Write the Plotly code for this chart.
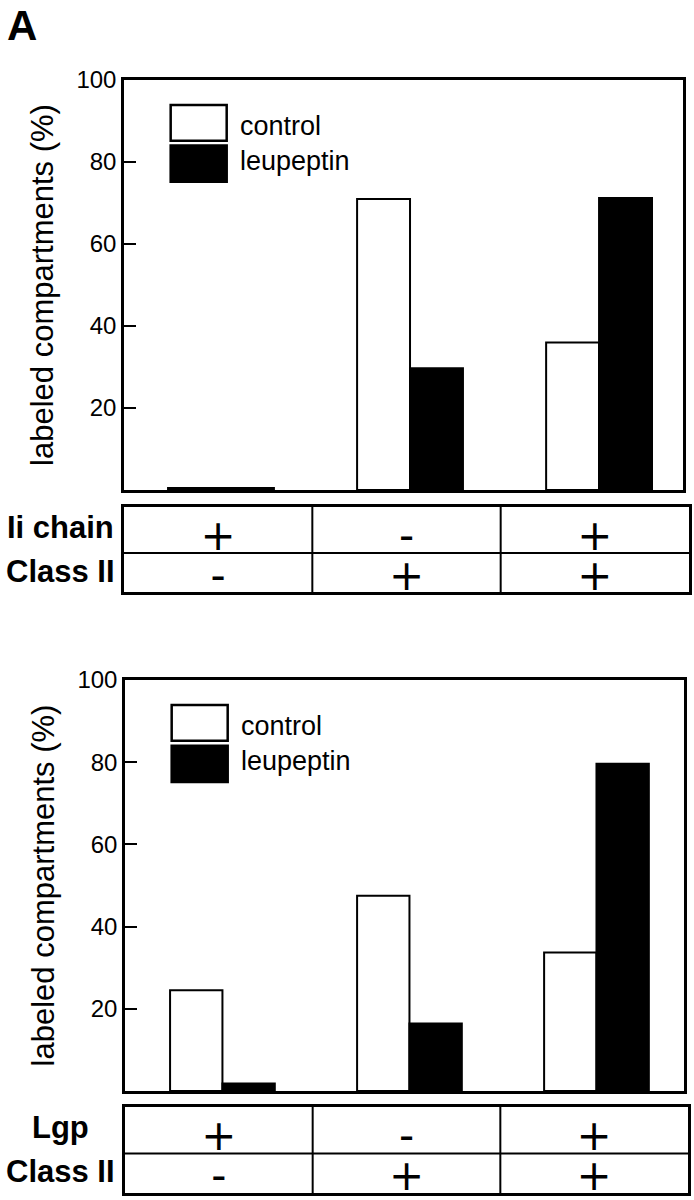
import plotly.graph_objects as go

# ---------------- data ----------------
groups = [0, 1, 2]
series_names = ["control", "leupeptin"]
top_control = [0.5, 71.0, 36.0]
top_leupeptin = [0.5, 29.7, 71.2]
bottom_control = [24.5, 47.5, 33.7]
bottom_leupeptin = [1.8, 16.4, 79.6]
y_ticks = [20, 40, 60, 80, 100]
y_title = "labeled compartments (%)"
top_row_labels = ["Ii chain", "Class II"]
top_row_signs = [["+", "-", "+"], ["-", "+", "+"]]
bottom_row_labels = ["Lgp", "Class II"]
bottom_row_signs = [["+", "-", "+"], ["-", "+", "+"]]
panel_label = "A"

FONT = "Liberation Sans, Arial, Helvetica, sans-serif"
SIGN_FONT = "DejaVu Sans, Liberation Sans, sans-serif"
W, H = 694, 1200

def px_x(a, b):
    return [a / W, b / W]

def px_y(top, bottom):
    return [(H - bottom) / H, (H - top) / H]

fig = go.Figure()

# bars
for (ctrl, leup, xa, ya) in [(top_control, top_leupeptin, "x", "y"),
                             (bottom_control, bottom_leupeptin, "x3", "y3")]:
    fig.add_trace(go.Bar(x=groups, y=ctrl, name=series_names[0], xaxis=xa, yaxis=ya,
                         marker=dict(color="white", line=dict(color="black", width=2)),
                         showlegend=False))
    fig.add_trace(go.Bar(x=groups, y=leup, name=series_names[1], xaxis=xa, yaxis=ya,
                         marker=dict(color="black", line=dict(color="black", width=2)),
                         showlegend=False))

# table texts (row index 1 = first row, 0 = second row)
for (signs, xa, ya) in [(top_row_signs, "x2", "y2"), (bottom_row_signs, "x4", "y4")]:
    xs, ys, ts = [], [], []
    for r, row in enumerate(signs):
        for c, s in enumerate(row):
            xs.append(groups[c]); ys.append(1 - r); ts.append(s)
    fig.add_trace(go.Scatter(x=xs, y=ys, text=ts, mode="text", xaxis=xa, yaxis=ya,
                             textposition="middle center", cliponaxis=False,
                             textfont=dict(size=42, color="black", family=SIGN_FONT),
                             showlegend=False, hoverinfo="skip"))

ROW_DIVIDER = 0.65

chart_y = dict(range=[0, 100], tickvals=y_ticks, ticks="inside", ticklen=12, tickwidth=2,
               tickcolor="black", showline=True, linewidth=2.5, linecolor="black", mirror=True,
               showgrid=False, zeroline=False, automargin=False,
               tickfont=dict(size=24, color="black", family=FONT),
               title=dict(text=y_title, font=dict(size=31, color="black", family=FONT), standoff=14))
chart_x = dict(showticklabels=False, ticks="", showline=True, linewidth=2.5, linecolor="black",
               mirror=True, showgrid=False, zeroline=False, automargin=False)
table_x = dict(range=[-0.5, 2.5], showticklabels=False, ticks="", showline=True, linewidth=2.5,
               linecolor="black", mirror=True, showgrid=False, zeroline=False, fixedrange=True,
               automargin=False)
table_y = dict(range=[-0.325, 1.8125], showticklabels=False, ticks="", showline=True, linewidth=2.5,
               linecolor="black", mirror=True, showgrid=False, zeroline=False, fixedrange=True,
               automargin=False)

fig.update_layout(
    template="none",
    width=W, height=H, margin=dict(l=0, r=0, t=0, b=0, pad=0),
    paper_bgcolor="white", plot_bgcolor="white",
    barmode="group", bargap=0.44, bargroupgap=0,
    font=dict(family=FONT, color="black"),
    xaxis=dict(chart_x, domain=px_x(124, 683), range=[-0.513, 2.444], anchor="y"),
    yaxis=dict(chart_y, domain=px_y(80, 490), anchor="x"),
    xaxis2=dict(table_x, domain=px_x(124, 689), anchor="y2"),
    yaxis2=dict(table_y, domain=px_y(506.5, 592), anchor="x2"),
    xaxis3=dict(chart_x, domain=px_x(125, 684), range=[-0.521, 2.468], anchor="y3"),
    yaxis3=dict(chart_y, domain=px_y(680, 1091), anchor="x3"),
    xaxis4=dict(table_x, domain=px_x(125, 688), anchor="y4"),
    yaxis4=dict(table_y, domain=px_y(1106.5, 1193), anchor="x4"),
)

shapes = []
annotations = []
# table dividers
for xa, ya in [("x2", "y2"), ("x4", "y4")]:
    for xv in [0.5, 1.5]:
        shapes.append(dict(type="line", xref=xa, yref=ya + " domain", x0=xv, x1=xv, y0=0, y1=1,
                           line=dict(color="black", width=2)))
    shapes.append(dict(type="line", xref=xa + " domain", yref=ya, x0=0, x1=1,
                       y0=ROW_DIVIDER, y1=ROW_DIVIDER, line=dict(color="black", width=2)))

# legends (inside each chart)
for xa, ya in [("x", "y"), ("x3", "y3")]:
    shapes.append(dict(type="rect", xref=xa + " domain", yref=ya + " domain",
                       x0=0.0835, x1=0.1837, y0=0.852, y1=0.939,
                       fillcolor="white", line=dict(color="black", width=2.5)))
    shapes.append(dict(type="rect", xref=xa + " domain", yref=ya + " domain",
                       x0=0.0835, x1=0.1837, y0=0.752, y1=0.840,
                       fillcolor="black", line=dict(color="black", width=2.5)))
    annotations.append(dict(text=series_names[0], xref=xa + " domain", yref=ya + " domain",
                            x=0.204, y=0.888, xanchor="left", yanchor="middle", showarrow=False,
                            font=dict(size=27, color="black", family=FONT)))
    annotations.append(dict(text=series_names[1], xref=xa + " domain", yref=ya + " domain",
                            x=0.204, y=0.802, xanchor="left", yanchor="middle", showarrow=False,
                            font=dict(size=27, color="black", family=FONT)))

# row labels
for labels, ya in [(top_row_labels, "y2"), (bottom_row_labels, "y4")]:
    for r, lab in enumerate(labels):
        annotations.append(dict(text="<b>" + lab + "</b>", xref="paper", yref=ya,
                                x=60 / W, y=1 - r, xanchor="center", yanchor="middle",
                                yshift=12 if r == 0 else 8, showarrow=False,
                                font=dict(size=31, color="black", family=FONT)))

annotations.append(dict(text="<b>" + panel_label + "</b>", xref="paper", yref="paper",
                        x=5 / W, y=1.0, xanchor="left", yanchor="top", showarrow=False,
                        font=dict(size=42, color="black", family=FONT)))

fig.update_layout(shapes=shapes, annotations=annotations)
fig.write_html("out.html", config={"displayModeBar": False},
               post_script="document.body.style.margin='0';document.body.style.overflow='hidden';")
